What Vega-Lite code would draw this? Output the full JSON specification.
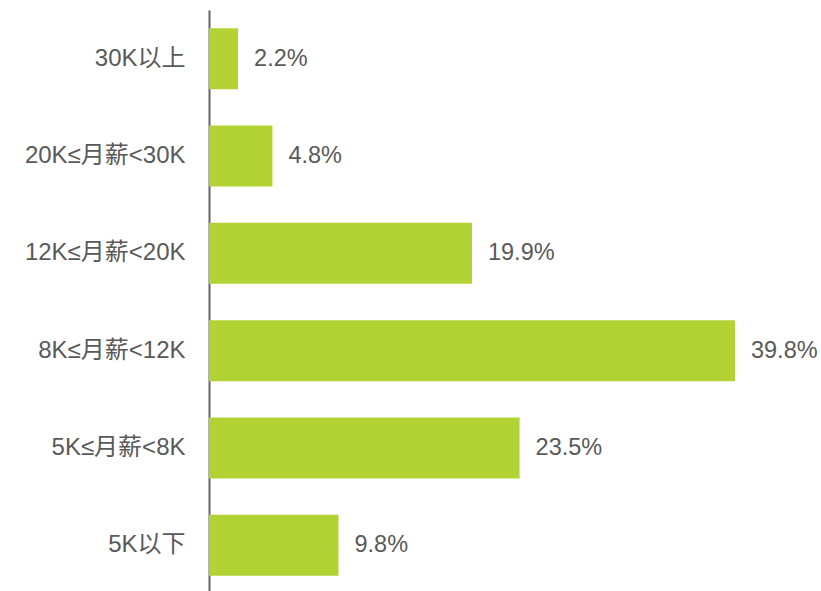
{
  "$schema": "https://vega.github.io/schema/vega-lite/v6.json",
  "width": 612,
  "height": 584,
  "autosize": {"type": "none"},
  "padding": {"left": 209, "top": 10, "right": 0, "bottom": 0},
  "config": {"view": {"stroke": null}},
  "data": {
    "values": [
      {"cat": "30K以上", "v": 2.2, "label": "2.2%"},
      {"cat": "20K≤月薪<30K", "v": 4.8, "label": "4.8%"},
      {"cat": "12K≤月薪<20K", "v": 19.9, "label": "19.9%"},
      {"cat": "8K≤月薪<12K", "v": 39.8, "label": "39.8%"},
      {"cat": "5K≤月薪<8K", "v": 23.5, "label": "23.5%"},
      {"cat": "5K以下", "v": 9.8, "label": "9.8%"}
    ]
  },
  "encoding": {
    "y": {
      "field": "cat",
      "type": "nominal",
      "sort": null,
      "scale": {"paddingInner": 0.373, "paddingOuter": 0.1865},
      "axis": {
        "title": null,
        "ticks": false,
        "domainColor": "#666666",
        "domainWidth": 2,
        "labelFont": "Liberation Sans, Noto Sans CJK SC",
        "labelFontSize": 24,
        "labelColor": "#595959",
        "labelPadding": 24
      }
    },
    "x": {
      "field": "v",
      "type": "quantitative",
      "scale": {"domain": [0, 46.31], "nice": false},
      "axis": null
    }
  },
  "layer": [
    {"mark": {"type": "bar", "color": "#b3d335"}},
    {
      "mark": {
        "type": "text",
        "align": "left",
        "baseline": "middle",
        "dx": 16,
        "font": "Liberation Sans",
        "fontSize": 23.5,
        "color": "#595959"
      },
      "encoding": {"text": {"field": "label"}}
    }
  ]
}
